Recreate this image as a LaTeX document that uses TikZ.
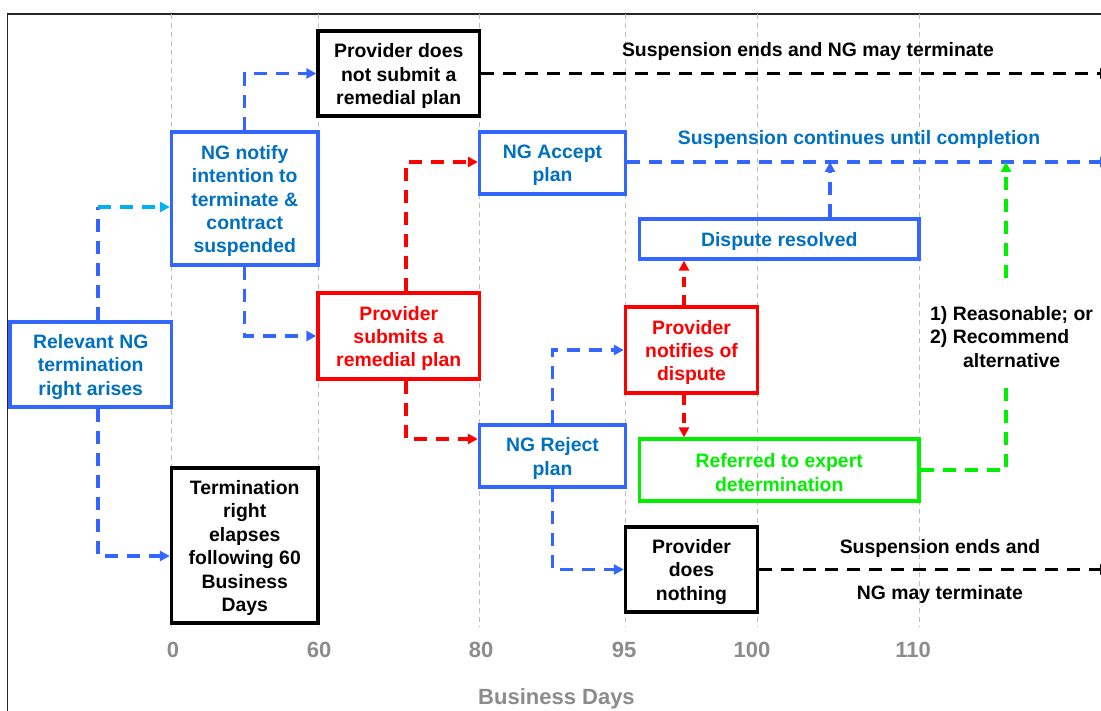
\documentclass[tikz,border=0pt]{standalone}
\usepackage{fontspec}
\setmainfont{Liberation Sans}
\usetikzlibrary{arrows.meta}
\definecolor{bline}{RGB}{51,102,255}
\definecolor{btext}{RGB}{0,112,192}
\definecolor{cline}{RGB}{0,176,240}
\definecolor{rline}{RGB}{255,0,0}
\definecolor{gline}{RGB}{0,240,0}
\definecolor{axgray}{RGB}{140,140,140}
\definecolor{gridgray}{RGB}{190,190,190}
\begin{document}
\begin{tikzpicture}[x=1pt,y=-1pt,
  every node/.style={font=\fontsize{19.4}{23.4}\selectfont\bfseries, align=center, inner sep=0pt},
  box/.style={draw, line width=3.3pt, rectangle},
  bluebox/.style={box, draw=bline},
  redbox/.style={box, draw=rline},
  greenbox/.style={box, draw=gline},
  blackbox/.style={box, draw=black},
  boxtext/.style={yshift=-2.5pt},
  conn/.style={line width=3.3pt, dash pattern=on 13pt off 9pt, -{Triangle[length=10pt,width=10pt]}},
  plainconn/.style={line width=3.3pt, dash pattern=on 13pt off 9pt},
  gridline/.style={draw=gridgray, line width=1pt, dash pattern=on 5pt off 4pt},
  axislabel/.style={font=\fontsize{22}{26}\selectfont\bfseries, text=axgray}
]
\useasboundingbox (0,0) rectangle (1101,711);
\clip (0,0) rectangle (1101,711);
\fill[white] (0,0) rectangle (1101,711);

% frame
\draw[line width=1.5pt, black!85] (7.7,740) -- (7.7,14) -- (1140,14);

% grid
\foreach \gx in {171.5,318,479.5,625.5,757.5,919}
  \draw[gridline] (\gx,14) -- (\gx,627);

% axis labels
\node[axislabel] (a0) at (173,650) {0};
\node[axislabel] (a60) at (319,650) {60};
\node[axislabel] (a80) at (481,650) {80};
\node[axislabel] (a95) at (624,650) {95};
\node[axislabel] (a100) at (752,650) {100};
\node[axislabel] (a110) at (913,650) {110};
\node[axislabel] (axt) at (556.5,698.5) {Business Days};

% boxes
\node[bluebox, minimum width=161.5pt, minimum height=85pt] (rel) at (90.75,364.5) {};
\node[boxtext, text=btext] (relT) at (rel.center) {Relevant NG\\termination\\right arises};
\node[bluebox, minimum width=146.5pt, minimum height=133pt] (notify) at (244.75,198.5) {};
\node[boxtext, text=btext] (notifyT) at (notify.center) {NG notify\\intention to\\terminate \&\\contract\\suspended};
\node[blackbox, minimum width=161.5pt, minimum height=85pt] (nosubmit) at (398.75,73.5) {};
\node[boxtext, text=black] (nosubmitT) at (nosubmit.center) {Provider does\\not submit a\\remedial plan};
\node[bluebox, minimum width=146pt, minimum height=62pt] (accept) at (552.5,163) {};
\node[boxtext, text=btext] (acceptT) at (accept.center) {NG Accept\\plan};
\node[redbox, minimum width=161.5pt, minimum height=86pt] (submits) at (398.75,336) {};
\node[boxtext, text=rline] (submitsT) at (submits.center) {Provider\\submits a\\remedial plan};
\node[bluebox, minimum width=146pt, minimum height=62pt] (reject) at (552.5,456) {};
\node[boxtext, text=btext] (rejectT) at (reject.center) {NG Reject\\plan};
\node[blackbox, minimum width=146.5pt, minimum height=155pt] (elapse) at (244.75,545.5) {};
\node[boxtext, text=black] (elapseT) at (elapse.center) {Termination\\right\\elapses\\following 60\\Business\\Days};
\node[bluebox, minimum width=279.5pt, minimum height=40pt] (resolved) at (779.25,239) {};
\node[boxtext, text=btext] (resolvedT) at (resolved.center) {Dispute resolved};
\node[redbox, minimum width=132pt, minimum height=86pt] (dispute) at (691.5,350) {};
\node[boxtext, text=rline] (disputeT) at (dispute.center) {Provider\\notifies of\\dispute};
\node[greenbox, minimum width=279.5pt, minimum height=62pt] (expert) at (779.25,470) {};
\node[boxtext, text=gline] (expertT) at (expert.center) {Referred to expert\\determination};
\node[blackbox, minimum width=132pt, minimum height=85pt] (nothing) at (691.5,569.5) {};
\node[boxtext, text=black] (nothingT) at (nothing.center) {Provider\\does\\nothing};

% free labels
\node[text=black] (t1) at (808,51) {Suspension ends and NG may terminate};
\node[text=btext] (t2) at (859,139) {Suspension continues until completion};
\node[text=black] (t3) at (940,548) {Suspension ends and};
\node[text=black] (t4) at (940,594) {NG may terminate};
\node[text=black, anchor=west, align=left] (crit) at (930,337) {1) Reasonable; or\\2) Recommend\\\hspace*{33pt}alternative};

% coordinates
\coordinate (c1) at (98,207);
\coordinate (c2) at (98,556);
\coordinate (xr) at (406,439);
\coordinate (yacc) at (406,162);
\coordinate (xd) at (684,0);
\coordinate (s1) at (830,162);
\coordinate (endR) at (1110,0);
\coordinate (gbot) at (1006,387);
\coordinate (gtop) at (1006,278);

% connectors
\draw[plainconn, draw=bline] (rel.north -| c1) -- (c1);
\draw[conn, draw=cline] (c1) -- (notify.west |- c1);
\draw[conn, draw=bline] (rel.south -| c2) |- (elapse.west |- c2);
\draw[conn, draw=bline] (notify.north) |- (nosubmit.west);
\draw[conn, draw=bline] (notify.south) |- (submits.west);
\draw[conn, draw=rline] (submits.north -| yacc) |- (accept.west |- yacc);
\draw[conn, draw=rline] (submits.south -| xr) |- (reject.west |- xr);
\draw[conn, draw=bline] (reject.north) |- (dispute.west);
\draw[conn, draw=bline] (reject.south) |- (nothing.west);
\draw[conn, draw=rline, dash pattern=on 10pt off 8pt] (dispute.north -| xd) -- (resolved.south -| xd);
\draw[conn, draw=rline, dash pattern=on 10pt off 8pt] (dispute.south -| xd) -- (expert.north -| xd);
\draw[conn, draw=bline] (resolved.north -| s1) -- (s1);
\draw[conn, draw=bline] (accept.east |- s1) -- (endR |- s1);
\draw[conn, draw=black] (nosubmit.east) -- (nosubmit.east -| endR);
\draw[conn, draw=black] (nothing.east) -- (nothing.east -| endR);
\draw[plainconn, draw=gline] (expert.east) -| (gbot);
\draw[conn, draw=gline] (gtop) -- (gtop |- s1);
\end{tikzpicture}
\end{document}
